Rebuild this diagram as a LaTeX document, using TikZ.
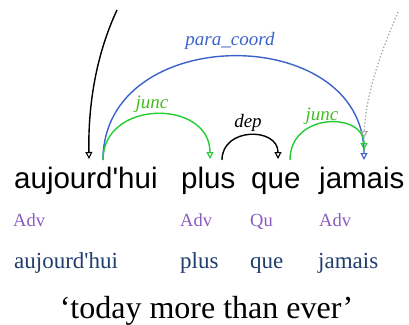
\documentclass[tikz,border=0pt]{standalone}
\usepackage{fontspec}
\setmainfont{Liberation Serif}
\newfontfamily\arialf{Liberation Sans}
\usetikzlibrary{arrows.meta}
\definecolor{posc}{HTML}{8A5CC0}
\definecolor{lemc}{HTML}{1F3D6E}
\definecolor{arcblue}{HTML}{3A62C8}
\definecolor{arcgreen}{HTML}{22CC33}
\definecolor{lblgreen}{HTML}{44BB22}
\definecolor{dotgray}{HTML}{AAAAAA}
\begin{document}
\begin{tikzpicture}[x=1pt,y=-1pt,
 word/.style={font=\arialf\fontsize{29.5}{30}\selectfont, anchor=base west, inner sep=0pt},
 posn/.style={font=\fontsize{18.5}{19}\selectfont, text=posc, anchor=base west, inner sep=0pt},
 lem/.style={font=\fontsize{23}{24}\selectfont, text=lemc, anchor=base west, inner sep=0pt},
 lbl/.style={font=\itshape\fontsize{19}{20}\selectfont, anchor=base, inner sep=0pt},
 deparc/.style={line width=1.4pt, -{Triangle[open,length=7pt,width=7pt,line width=1.1pt]}},
]
\useasboundingbox (0,0) rectangle (409,324);
% words
\node[word] (w1) at (14,188) {aujourd'hui};
\node[word] (w2) at (181,188) {plus};
\node[word] (w3) at (251,188) {que};
\node[word] (w4) at (319,188) {jamais};
% POS
\node[posn] (p1) at (13,226) {Adv};
\node[posn] (p2) at (180,226) {Adv};
\node[posn] (p3) at (250,226) {Qu};
\node[posn] (p4) at (319,226) {Adv};
% lemmas
\node[lem] (l1) at (14,268) {aujourd\textquotesingle hui};
\node[lem] (l2) at (180,268) {plus};
\node[lem] (l3) at (250,268) {que};
\node[lem] (l4) at (318,268) {jamais};
% gloss
\node[font=\fontsize{32}{33}\selectfont, anchor=base, inner sep=0pt] (gl) at (206.5,318) {‘today more than ever’};
% arc endpoints
\coordinate (rootstart) at (117,10);
\coordinate (w1root) at (89,159);
\coordinate (w1out) at (103,160);
\coordinate (w2in) at (210,159);
\coordinate (w2out) at (222,160);
\coordinate (w3in) at (278,159);
\coordinate (w3out) at (290,160);
\coordinate (w4inb) at (364,160);
\coordinate (w4ing) at (364,150);
\coordinate (w4ind) at (364,138);
\coordinate (dotstart) at (398,12);
% arcs
\draw[deparc, black] (rootstart) .. controls (96,55) and (88,105) .. (w1root);
\draw[deparc, arcblue] (w1out) .. controls (103,22) and (364,22) .. (w4inb);
\node[lbl, text=arcblue] (lpc) at (230,45) {para\_coord};
\draw[deparc, arcgreen] (w1out) .. controls (103,99) and (210,99) .. (w2in);
\node[lbl, text=lblgreen] (lj1) at (152,108) {junc};
\draw[deparc, black] (w2out) .. controls (222,127) and (278,127) .. (w3in);
\node[lbl, text=black] (ld) at (248,127) {dep};
\draw[deparc, arcgreen] (w3out) .. controls (290,112) and (364,112) .. (w4ing);
\node[lbl, text=lblgreen] (lj2) at (322,120) {junc};
\draw[deparc, dotgray, dotted, line width=1.3pt] (dotstart) .. controls (384,45) and (366,90) .. (w4ind);
\end{tikzpicture}
\end{document}
